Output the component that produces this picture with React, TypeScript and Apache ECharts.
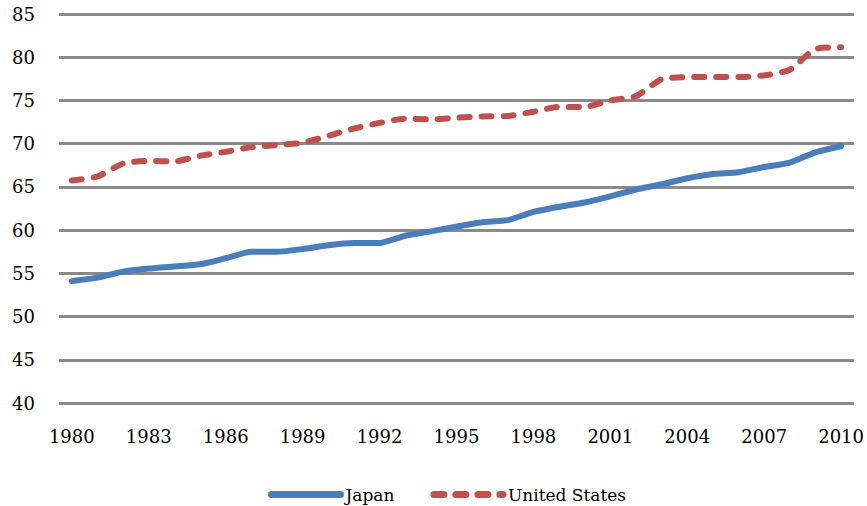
import React, { useEffect, useRef } from "react";
import * as echarts from "echarts";

const years: string[] = [];
for (let y = 1980; y <= 2010; y++) years.push(String(y));

const japan = [
  54.1, 54.5, 55.2, 55.55, 55.8, 56.05, 56.75, 57.5, 57.5, 57.8,
  58.25, 58.5, 58.5, 59.35, 59.85, 60.4, 60.9, 61.15, 62.1, 62.7,
  63.2, 63.9, 64.7, 65.3, 66.0, 66.5, 66.7, 67.3, 67.8, 69.0, 69.7,
];

const unitedStates = [
  65.75, 66.2, 67.7, 68.0, 67.95, 68.6, 69.05, 69.6, 69.85, 70.1,
  70.9, 71.75, 72.4, 72.9, 72.8, 73.0, 73.15, 73.2, 73.7, 74.25,
  74.25, 75.0, 75.5, 77.45, 77.7, 77.7, 77.7, 77.9, 78.55, 80.95, 81.15,
];

const seriesNames = ["Japan", "United States"];

const FONT = "DejaVu Serif";

export default function App() {
  const ref = useRef<HTMLDivElement>(null);
  useEffect(() => {
    if (!ref.current) return;
    const chart = echarts.init(ref.current, undefined, { renderer: "svg" });
    chart.setOption({
      animation: false,
      backgroundColor: "#ffffff",
      grid: { left: 59, right: 12, top: 14, bottom: 103 },
      legend: {
        data: seriesNames,
        left: 263,
        top: 481,
        itemWidth: 69,
        itemHeight: 14,
        itemGap: 36,
        itemStyle: { opacity: 0 },
        lineStyle: { width: 7, cap: "round" },
        textStyle: { fontFamily: FONT, fontSize: 17, color: "#000" },
      },
      xAxis: {
        type: "category",
        data: years,
        boundaryGap: true,
        axisLine: { show: false },
        axisTick: { show: false },
        axisLabel: {
          interval: 2,
          margin: 24,
          fontFamily: FONT,
          fontSize: 18,
          color: "#000",
        },
      },
      yAxis: {
        type: "value",
        min: 40,
        max: 85,
        interval: 5,
        axisLine: { show: false },
        axisTick: { show: false },
        axisLabel: {
          margin: 24,
          fontFamily: FONT,
          fontSize: 18,
          color: "#000",
        },
        splitLine: { lineStyle: { color: "#8a8a8a", width: 3 } },
      },
      series: [
        {
          name: seriesNames[0],
          type: "line",
          data: japan,
          symbol: "none",
          smooth: 0.2,
          color: "#4a7ebb",
          lineStyle: { color: "#4a7ebb", width: 6, cap: "round", join: "round" },
        },
        {
          name: seriesNames[1],
          type: "line",
          data: unitedStates,
          symbol: "none",
          smooth: 0.2,
          color: "#c0504d",
          lineStyle: {
            color: "#c0504d",
            width: 6,
            type: [10, 12],
            cap: "round",
            join: "round",
          },
        },
      ],
    });
    return () => chart.dispose();
  }, []);
  return (
    <div
      ref={ref}
      style={{ position: "fixed", left: 0, top: 0, width: 867, height: 506 }}
    />
  );
}
